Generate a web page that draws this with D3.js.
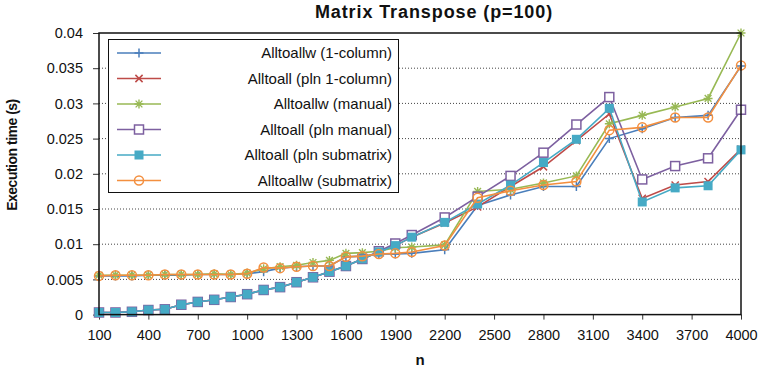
<!DOCTYPE html>
<html>
<head>
<meta charset="utf-8">
<script src="https://cdn.jsdelivr.net/npm/d3@7"></script>
<style>
  html, body { margin: 0; padding: 0; background: #fff; }
  svg { display: block; font-family: "Liberation Sans", Arial, Helvetica, sans-serif; }
</style>
</head>
<body>
<svg id="chart" width="760" height="370"></svg>
<script>
// Matrix sizes n
const sizes = [100, 200, 300, 400, 500, 600, 700, 800, 900, 1000,
  1100, 1200, 1300, 1400, 1500, 1600, 1700, 1800, 1900, 2000,
  2200, 2400, 2600, 2800, 3000, 3200, 3400, 3600, 3800, 4000];

// Execution times (s) per communication variant
const alltoallw1col = [0.0055, 0.0055, 0.0055, 0.0056, 0.0056, 0.0056, 0.0057, 0.0057, 0.0057, 0.0058,
  0.0061, 0.0066, 0.0068, 0.0069, 0.0069, 0.0082, 0.0083, 0.0086, 0.0086, 0.0087,
  0.0092, 0.0155, 0.0170, 0.0182, 0.0182, 0.0250, 0.0264, 0.0280, 0.0283, 0.0353];
const alltoallPln1col = [0.0003, 0.0003, 0.0004, 0.00065, 0.00075, 0.0014, 0.0018, 0.0021, 0.0025, 0.0029,
  0.0035, 0.0039, 0.0046, 0.0053, 0.0061, 0.0069, 0.0079, 0.0089, 0.0098, 0.0110,
  0.0130, 0.0153, 0.0182, 0.0210, 0.0247, 0.0285, 0.0165, 0.0184, 0.0189, 0.0235];
const alltoallwManual = [0.0056, 0.0056, 0.0056, 0.0056, 0.0057, 0.0057, 0.0057, 0.0058, 0.0057, 0.0059,
  0.0065, 0.0068, 0.0070, 0.0074, 0.0077, 0.0087, 0.0088, 0.0090, 0.0095, 0.0096,
  0.0099, 0.0175, 0.0178, 0.0187, 0.0197, 0.0271, 0.0283, 0.0295, 0.0307, 0.0400];
const alltoallPlnManual = [0.0003, 0.0003, 0.0004, 0.00065, 0.00075, 0.0014, 0.0018, 0.0021, 0.0025, 0.0029,
  0.0035, 0.0039, 0.0046, 0.0053, 0.0061, 0.0069, 0.0079, 0.0090, 0.0101, 0.0113,
  0.0138, 0.01675, 0.0197, 0.0230, 0.0270, 0.0309, 0.0192, 0.0211, 0.0222, 0.0291];
const alltoallPlnSub = [0.0003, 0.0003, 0.0004, 0.00065, 0.00075, 0.0014, 0.0018, 0.0021, 0.0025, 0.0029,
  0.0035, 0.0039, 0.0046, 0.0053, 0.0061, 0.0069, 0.0079, 0.0089, 0.0098, 0.0110,
  0.0131, 0.0157, 0.0184, 0.0216, 0.0249, 0.0293, 0.0160, 0.0180, 0.0183, 0.0234];
const alltoallwSub = [0.0055, 0.0056, 0.0056, 0.0056, 0.0057, 0.0057, 0.0057, 0.0057, 0.0057, 0.0058,
  0.0067, 0.0066, 0.0068, 0.0069, 0.0069, 0.0082, 0.0083, 0.0086, 0.0087, 0.0089,
  0.0098, 0.0166, 0.0176, 0.0184, 0.0189, 0.0262, 0.0266, 0.0280, 0.0280, 0.0354];

const seriesNames = ["Alltoallw (1-column)", "Alltoall (pln 1-column)", "Alltoallw (manual)",
  "Alltoall (pln manual)", "Alltoall (pln submatrix)", "Alltoallw (submatrix)"];
const seriesValues = [alltoallw1col, alltoallPln1col, alltoallwManual,
  alltoallPlnManual, alltoallPlnSub, alltoallwSub];
const seriesColors = ["#4a7ebb", "#be4b48", "#98b954", "#7d60a0", "#46aac5", "#f38f3f"];
const seriesMarkers = ["plus", "cross", "asterisk", "squareOpen", "squareFilled", "circleOpen"];

const xTicks = [100, 400, 700, 1000, 1300, 1600, 1900, 2200, 2500, 2800, 3100, 3400, 3700, 4000];
const xTickLabels = ["100", "400", "700", "1000", "1300", "1600", "1900", "2200", "2500", "2800",
  "3100", "3400", "3700", "4000"];
const yTicks = [0, 0.005, 0.01, 0.015, 0.02, 0.025, 0.03, 0.035, 0.04];
const yTickLabels = ["0", "0.005", "0.01", "0.015", "0.02", "0.025", "0.03", "0.035", "0.04"];

const svg = d3.select("#chart");
const plot = { left: 99, right: 741, top: 33, bottom: 314.6 };

const x = d3.scaleLinear().domain([100, 4000]).range([plot.left, plot.right]);
const y = d3.scaleLinear().domain([0, 0.04]).range([plot.bottom, plot.top]);

// Horizontal dotted grid
svg.append("g")
  .selectAll("line")
  .data(yTicks.slice(1, -1))
  .join("line")
  .attr("x1", plot.left).attr("x2", plot.right)
  .attr("y1", d => y(d)).attr("y2", d => y(d))
  .attr("stroke", "#444").attr("stroke-width", 1)
  .attr("stroke-dasharray", "1,2");

// Axes
const xAxis = d3.axisBottom(x).tickValues(xTicks).tickFormat((d, i) => xTickLabels[i])
  .tickSize(5).tickSizeOuter(0).tickPadding(10);
const gx = svg.append("g").attr("transform", `translate(0,${plot.bottom})`).call(xAxis);
gx.select(".domain").remove();
gx.selectAll("text").attr("font-size", 14.5).attr("fill", "#111")
  .attr("font-family", "Liberation Sans, Arial, sans-serif");
gx.selectAll("line").attr("stroke", "#333");

const yAxis = d3.axisLeft(y).tickValues(yTicks).tickFormat((d, i) => yTickLabels[i])
  .tickSize(6).tickSizeOuter(0).tickPadding(10);
const gy = svg.append("g").attr("transform", `translate(${plot.left},0)`).call(yAxis);
gy.select(".domain").remove();
gy.selectAll("text").attr("font-size", 14.5).attr("fill", "#111")
  .attr("font-family", "Liberation Sans, Arial, sans-serif");
gy.selectAll("line").attr("stroke", "#333");

// Marker drawing
function drawMarker(g, type, color) {
  const s = 4.5;
  switch (type) {
    case "plus":
      g.append("path").attr("d", `M${-s},0H${s}M0,${-s}V${s}`)
        .attr("stroke", color).attr("stroke-width", 1.5).attr("fill", "none");
      break;
    case "cross":
      g.append("path").attr("d", `M${-s*0.8},${-s*0.8}L${s*0.8},${s*0.8}M${-s*0.8},${s*0.8}L${s*0.8},${-s*0.8}`)
        .attr("stroke", color).attr("stroke-width", 1.5).attr("fill", "none");
      break;
    case "asterisk":
      g.append("path").attr("d", `M${-s},0H${s}M0,${-s}V${s}M${-s*0.75},${-s*0.75}L${s*0.75},${s*0.75}M${-s*0.75},${s*0.75}L${s*0.75},${-s*0.75}`)
        .attr("stroke", color).attr("stroke-width", 1.4).attr("fill", "none");
      break;
    case "squareOpen":
      g.append("rect").attr("x", -4.5).attr("y", -4.5).attr("width", 9).attr("height", 9)
        .attr("stroke", color).attr("stroke-width", 1.5).attr("fill", "#fff");
      break;
    case "squareFilled":
      g.append("rect").attr("x", -4.5).attr("y", -4.5).attr("width", 9).attr("height", 9)
        .attr("fill", color);
      break;
    case "circleOpen":
      g.append("circle").attr("r", 4.5)
        .attr("stroke", color).attr("stroke-width", 1.5).attr("fill", "none");
      break;
  }
}

// Series lines and markers
const line = d3.line().x((d, i) => x(sizes[i])).y(d => y(d));
seriesValues.forEach((vals, k) => {
  const g = svg.append("g");
  g.append("path").datum(vals).attr("d", line)
    .attr("fill", "none").attr("stroke", seriesColors[k]).attr("stroke-width", 1.6);
  vals.forEach((v, i) => {
    const m = g.append("g").attr("transform", `translate(${x(sizes[i])},${y(v)})`);
    drawMarker(m, seriesMarkers[k], seriesColors[k]);
  });
});

// Plot frame
svg.append("rect")
  .attr("x", plot.left).attr("y", plot.top)
  .attr("width", plot.right - plot.left).attr("height", plot.bottom - plot.top)
  .attr("fill", "none").attr("stroke", "#111").attr("stroke-width", 1.5);

// Legend
const legend = svg.append("g");
legend.append("rect")
  .attr("x", 108.5).attr("y", 39.5).attr("width", 290).attr("height", 153)
  .attr("fill", "#fff").attr("stroke", "#111").attr("stroke-width", 1);
seriesNames.forEach((name, k) => {
  const ly = 53 + k * 25.5;
  legend.append("line").attr("x1", 117).attr("x2", 161).attr("y1", ly).attr("y2", ly)
    .attr("stroke", seriesColors[k]).attr("stroke-width", 1.6);
  const m = legend.append("g").attr("transform", `translate(139,${ly})`);
  drawMarker(m, seriesMarkers[k], seriesColors[k]);
  legend.append("text").attr("x", 392).attr("y", ly).attr("dy", "0.35em")
    .attr("text-anchor", "end").attr("font-size", 15).attr("fill", "#111").text(name);
});

// Titles
svg.append("text").attr("x", 434).attr("y", 18).attr("text-anchor", "middle")
  .attr("font-size", 18).attr("font-weight", "bold").attr("letter-spacing", 0.9).attr("fill", "#111")
  .text("Matrix Transpose (p=100)");
svg.append("text").attr("x", 420).attr("y", 365).attr("text-anchor", "middle")
  .attr("font-size", 15).attr("font-weight", "bold").attr("fill", "#111").text("n");
svg.append("text").attr("transform", "translate(16.5,155) rotate(-90)").attr("text-anchor", "middle")
  .attr("font-size", 14).attr("font-weight", "bold").attr("letter-spacing", -0.5).attr("fill", "#111")
  .text("Execution time (s)");
</script>
</body>
</html>
